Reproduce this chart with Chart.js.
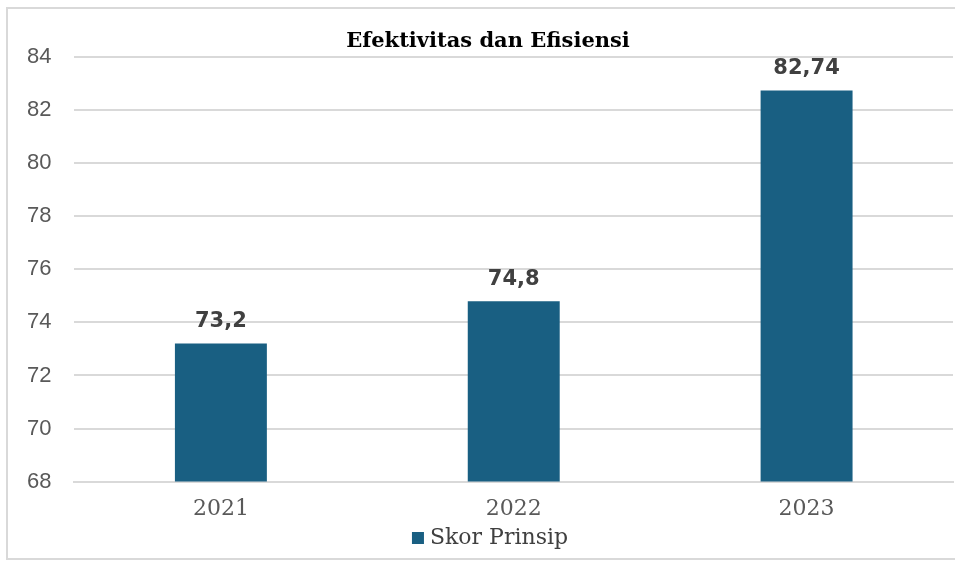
<!DOCTYPE html>
<html>
<head>
<meta charset="utf-8">
<script src="https://cdn.jsdelivr.net/npm/chart.js@4.4.0/dist/chart.umd.min.js"></script>
<style>
    html, body { margin: 0; padding: 0; background: #fff; }
    #wrap { width: 955px; height: 562px; position: relative; }
</style>
</head>
<body>
<div id="wrap"><canvas id="chart"></canvas></div>
<script>
// data
const years = ['2021', '2022', '2023'];
const skorPrinsip = [73.2, 74.8, 82.74];
const yTicks = [68, 70, 72, 74, 76, 78, 80, 82, 84];
const chartTitle = 'Efektivitas dan Efisiensi';
const seriesName = 'Skor Prinsip';
const barColor = '#195f82';

// frame, title and legend (the frame sits a bit off-centre, like the original)
const framePlugin = {
    id: 'frame',
    beforeDraw(chart) {
        const c = chart.ctx;
        c.save();
        c.fillStyle = '#fff';
        c.fillRect(0, 0, chart.width, chart.height);
        c.strokeStyle = '#d9d9d9';
        c.lineWidth = 2;
        c.strokeRect(7, 8, chart.width + 10, 551);
        c.restore();
    },
    afterDraw(chart) {
        const c = chart.ctx;
        const mid = 490;
        c.save();
        c.textBaseline = 'middle';
        c.textAlign = 'center';
        c.fillStyle = '#000';
        c.font = 'bold 21px "DejaVu Serif"';
        c.fillText(chartTitle, mid - 2, 42);

        c.font = '22px "DejaVu Serif"';
        const tw = c.measureText(seriesName).width;
        const left = mid - (12 + 6 + tw) / 2;
        c.fillStyle = barColor;
        c.fillRect(left, 532, 12, 12);
        c.fillStyle = '#404040';
        c.textAlign = 'left';
        c.fillText(seriesName, left + 18, 538);
        c.restore();
    }
};

// value labels above bars
const barLabels = {
    id: 'barLabels',
    afterDatasetsDraw(chart) {
        const c = chart.ctx;
        const meta = chart.getDatasetMeta(0);
        c.save();
        c.font = 'bold 21px "DejaVu Sans"';
        c.fillStyle = '#404040';
        c.textAlign = 'center';
        c.textBaseline = 'middle';
        meta.data.forEach((bar, i) => {
            const txt = String(skorPrinsip[i]).replace('.', ',');
            c.fillText(txt, bar.x, bar.y - 22);
        });
        c.restore();
    }
};

new Chart(document.getElementById('chart'), {
    type: 'bar',
    data: {
        labels: years,
        datasets: [{
            label: seriesName,
            data: skorPrinsip,
            backgroundColor: barColor,
            categoryPercentage: 1,
            barPercentage: 0.314
        }]
    },
    options: {
        responsive: true,
        maintainAspectRatio: false,
        animation: false,
        layout: { padding: { left: 4, right: 2, top: 57, bottom: 26 } },
        plugins: {
            title: { display: false },
            legend: { display: false },
            tooltip: { enabled: false }
        },
        scales: {
            x: {
                grid: { display: false, drawTicks: false },
                border: { display: true, color: '#d9d9d9', width: 2 },
                ticks: {
                    color: '#595959',
                    font: { family: '"DejaVu Serif"', size: 22 },
                    padding: 14
                }
            },
            y: {
                min: 68,
                max: 84,
                afterBuildTicks(scale) {
                    scale.ticks = yTicks.map(v => ({ value: v }));
                },
                grid: { color: '#d9d9d9', lineWidth: 2, drawTicks: false },
                border: { display: false },
                ticks: {
                    color: '#595959',
                    font: { family: '"Liberation Sans"', size: 22 },
                    padding: 23
                }
            }
        }
    },
    plugins: [framePlugin, barLabels]
});
</script>
</body>
</html>
